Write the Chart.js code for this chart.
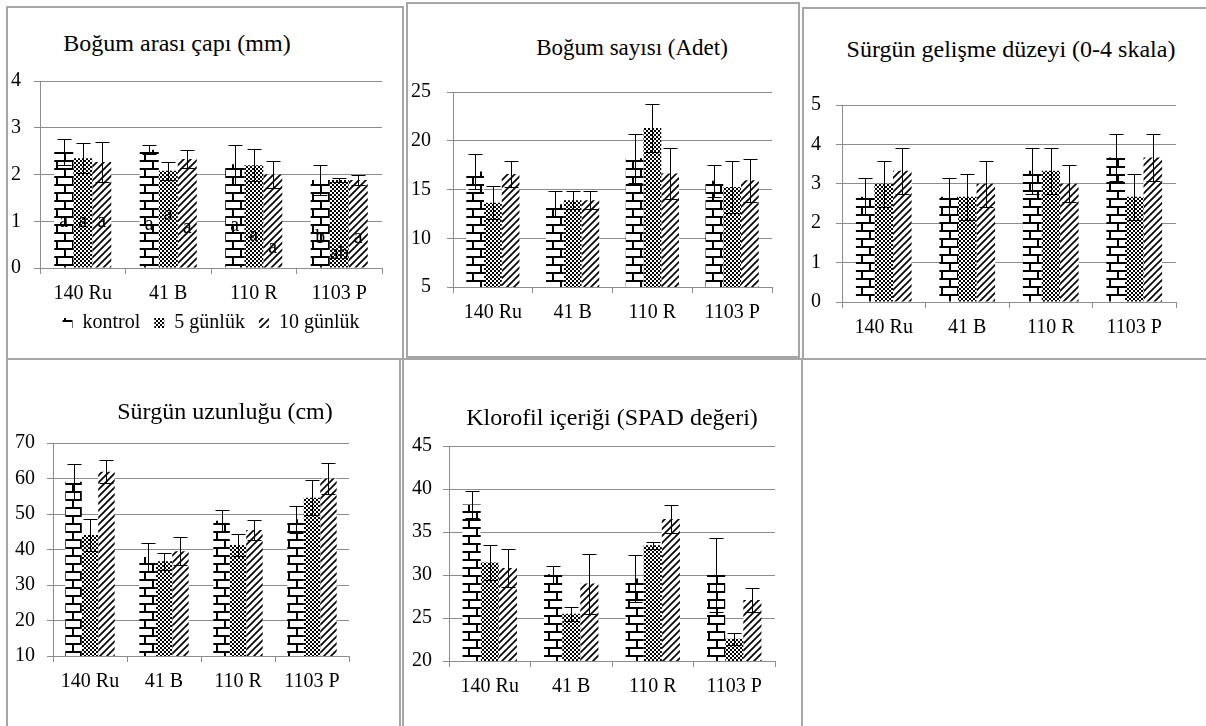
<!DOCTYPE html>
<html>
<head>
<meta charset="utf-8">
<script src="https://cdn.jsdelivr.net/npm/chart.js@4.4.1/dist/chart.umd.min.js"></script>
<style>
body { margin: 0; background: #fff; width: 1206px; height: 726px; overflow: hidden; position: relative; font-family: 'Liberation Serif', 'Times New Roman', serif; }
.box { position: absolute; border: 2px solid #a6a6a6; box-sizing: border-box; }
.ttl { position: absolute; transform: translate(-50%, -50%); white-space: nowrap; line-height: 1; color: #000; }
canvas { position: absolute; }
</style>
</head>
<body>
<div class="box" style="left:6px;top:6px;width:398px;height:354px"></div>
<div class="box" style="left:406px;top:2px;width:394px;height:356px"></div>
<div class="box" style="left:802px;top:7px;width:410px;height:353px"></div>
<div class="box" style="left:6px;top:358px;width:395px;height:380px"></div>
<div class="box" style="left:402px;top:358px;width:401px;height:380px"></div>
<script>
const categories = ['140 Ru', '41 B', '110 R', '1103 P'];
const seriesNames = ['kontrol', '5 günlük', '10 günlük'];

// Boğum arası çapı (mm)
const capKontrol = [2.48, 2.53, 2.22, 1.88];
const capKontrolErr = [0.27, 0.1, 0.42, 0.32];
const cap5 = [2.35, 2.08, 2.2, 1.88];
const cap5Err = [0.32, 0.19, 0.34, 0.04];
const cap10 = [2.27, 2.33, 2.0, 1.88];
const cap10Err = [0.43, 0.19, 0.28, 0.1];
const capLettersKontrol = ['a', 'a', 'a', 'b'];
const capLetters5 = ['a', 'a', 'a', 'ab'];
const capLetters10 = ['a', 'a', 'a', 'a'];
const capLetterAtKontrol = [1.0, 0.93, 0.9, 0.64];
const capLetterAt5 = [1.0, 1.14, 0.69, 0.3];
const capLetterAt10 = [1.0, 0.86, 0.44, 0.65];

// Boğum sayısı (Adet)
const sayiKontrol = [16.85, 13.5, 18.2, 15.9];
const sayiKontrolErr = [1.8, 1.35, 2.5, 1.65];
const sayi5 = [13.65, 13.9, 21.3, 15.25];
const sayi5Err = [1.7, 0.9, 2.5, 2.65];
const sayi10 = [16.6, 13.9, 16.65, 15.95];
const sayi10Err = [1.3, 0.9, 2.6, 2.2];

// Sürgün gelişme düzeyi (0-4 skala)
const gelKontrol = [2.67, 2.67, 3.33, 3.67];
const gelKontrolErr = [0.47, 0.47, 0.58, 0.6];
const gel5 = [3.0, 2.67, 3.33, 2.67];
const gel5Err = [0.58, 0.58, 0.58, 0.58];
const gel10 = [3.33, 3.0, 3.0, 3.67];
const gel10Err = [0.58, 0.58, 0.47, 0.6];

// Sürgün uzunluğu (cm)
const uzKontrol = [59.1, 37.9, 48.1, 48.5];
const uzKontrolErr = [4.9, 4.0, 3.0, 3.8];
const uz5 = [44.1, 36.7, 41.3, 54.6];
const uz5Err = [4.4, 2.4, 3.0, 5.0];
const uz10 = [61.9, 39.5, 45.5, 60.0];
const uz10Err = [3.2, 3.9, 2.7, 4.4];

// Klorofil içeriği (SPAD değeri)
const spadKontrol = [38.2, 30.1, 29.6, 30.0];
const spadKontrolErr = [1.55, 1.0, 2.7, 4.3];
const spad5 = [31.45, 25.5, 33.45, 22.6];
const spad5Err = [2.05, 0.8, 0.4, 0.7];
const spad10 = [30.8, 29.0, 36.5, 27.1];
const spad10Err = [2.25, 3.5, 1.65, 1.4];

const FONT = "'Liberation Serif', 'Times New Roman', serif";
const GRID = '#8c8c8c';

function tile(w, h, draw) {
    const c = document.createElement('canvas');
    c.width = w; c.height = h;
    const g = c.getContext('2d');
    g.fillStyle = '#fff';
    g.fillRect(0, 0, w, h);
    g.fillStyle = '#000';
    g.strokeStyle = '#000';
    draw(g);
    return g.createPattern(c, 'repeat');
}

// horizontal brick
const brick = tile(16, 16, g => {
    g.fillRect(0, 0, 16, 2);
    g.fillRect(0, 8, 16, 2);
    g.fillRect(0, 2, 2, 6);
    g.fillRect(8, 10, 2, 6);
});
// small checker board
const checker = tile(4, 4, g => {
    g.fillRect(0, 0, 2, 2);
    g.fillRect(2, 2, 2, 2);
});
// wide upward diagonal
const diagonal = tile(7, 7, g => {
    g.lineWidth = 1.7;
    g.beginPath();
    g.moveTo(-1, 8); g.lineTo(8, -1);
    g.moveTo(-2, 2); g.lineTo(2, -2);
    g.moveTo(5, 9); g.lineTo(9, 5);
    g.stroke();
});
const fills = [brick, checker, diagonal];

const errorBars = {
    id: 'errorBars',
    afterDatasetsDraw(chart) {
        const ctx = chart.ctx, y = chart.scales.y;
        ctx.save();
        ctx.strokeStyle = '#000';
        ctx.lineWidth = 1;
        chart.data.datasets.forEach((ds, i) => {
            chart.getDatasetMeta(i).data.forEach((bar, j) => {
                const x = Math.round(bar.x) + 0.5;
                const t = Math.round(y.getPixelForValue(ds.data[j] + ds.errors[j])) + 0.5;
                const b = Math.round(y.getPixelForValue(ds.data[j] - ds.errors[j])) + 0.5;
                ctx.beginPath();
                ctx.moveTo(x, t); ctx.lineTo(x, b);
                ctx.moveTo(x - 7, t); ctx.lineTo(x + 7, t);
                ctx.moveTo(x - 7, b); ctx.lineTo(x + 7, b);
                ctx.stroke();
            });
        });
        ctx.restore();
    }
};

const barLetters = {
    id: 'barLetters',
    afterDraw(chart) {
        const ctx = chart.ctx, y = chart.scales.y;
        ctx.save();
        ctx.font = '20px ' + FONT;
        ctx.fillStyle = '#000';
        ctx.textAlign = 'center';
        ctx.textBaseline = 'middle';
        chart.data.datasets.forEach((ds, i) => {
            if (!ds.letters) return;
            chart.getDatasetMeta(i).data.forEach((bar, j) => {
                ctx.fillText(ds.letters[j], bar.x, y.getPixelForValue(ds.letterAt[j]));
            });
        });
        ctx.restore();
    }
};

function addTitle(text, x, y, size) {
    const d = document.createElement('div');
    d.className = 'ttl';
    d.textContent = text;
    d.style.left = x + 'px';
    d.style.top = y + 'px';
    d.style.fontSize = size + 'px';
    document.body.appendChild(d);
}

function makeChart(p, values, errors, extra) {
    const padTop = 20, padRight = 10;
    const axisH = p.legend ? 31 : 45;
    const legendH = p.legend ? 44 : 0;
    const left = Math.max(0, p.plot[0] - 45);
    const yW = p.plot[0] - left;
    const top = p.plot[1] - padTop;
    const cv = document.createElement('canvas');
    cv.width = p.plot[2] + padRight - left;
    cv.height = p.plot[3] + axisH + legendH - top;
    cv.style.left = left + 'px';
    cv.style.top = top + 'px';
    document.body.appendChild(cv);

    const datasets = values.map((v, i) => Object.assign({
        label: seriesNames[i],
        data: v,
        errors: errors[i],
        backgroundColor: fills[i],
        borderWidth: 0,
        categoryPercentage: 0.667,
        barPercentage: 1.0
    }, extra ? extra[i] : {}));

    addTitle(p.title, p.titleX, p.titleY, p.titleSize);

    return new Chart(cv, {
        type: 'bar',
        data: { labels: categories, datasets },
        plugins: [errorBars, barLetters],
        options: {
            responsive: false,
            animation: false,
            devicePixelRatio: 1,
            layout: { padding: { top: padTop, right: padRight, left: 0, bottom: 0 } },
            plugins: {
                tooltip: { enabled: false },
                title: { display: false },
                legend: {
                    display: !!p.legend,
                    position: 'bottom',
                    fullSize: false,
                    labels: {
                        font: { family: FONT, size: 20 },
                        color: '#000',
                        boxWidth: 10,
                        boxHeight: 10,
                        padding: 14
                    }
                }
            },
            scales: {
                x: {
                    grid: { display: true, drawOnChartArea: false, drawTicks: true, tickLength: 6, color: GRID, offset: true },
                    border: { color: GRID },
                    ticks: { font: { family: FONT, size: 20 }, color: '#000', padding: 8, maxRotation: 0, autoSkip: false },
                    afterFit: s => { s.height = axisH; }
                },
                y: {
                    min: p.min,
                    max: p.max,
                    grid: { color: GRID, tickLength: 6 },
                    border: { color: GRID },
                    ticks: { stepSize: p.step, font: { family: FONT, size: 20 }, color: '#000', padding: p.tickPad },
                    afterFit: s => { s.width = yW; }
                }
            }
        }
    });
}

makeChart(
    { plot: [40, 76, 382, 268], min: 0, max: 4, step: 1, tickPad: 13, legend: true,
      title: 'Boğum arası çapı (mm)', titleX: 177, titleY: 43, titleSize: 24 },
    [capKontrol, cap5, cap10],
    [capKontrolErr, cap5Err, cap10Err],
    [
        { letters: capLettersKontrol, letterAt: capLetterAtKontrol },
        { letters: capLetters5, letterAt: capLetterAt5 },
        { letters: capLetters10, letterAt: capLetterAt10 }
    ]
);

makeChart(
    { plot: [453, 84, 772, 287], min: 5, max: 25, step: 5, tickPad: 16,
      title: 'Boğum sayısı (Adet)', titleX: 632, titleY: 47, titleSize: 23 },
    [sayiKontrol, sayi5, sayi10],
    [sayiKontrolErr, sayi5Err, sayi10Err]
);

makeChart(
    { plot: [842, 98, 1176, 302], min: 0, max: 5, step: 1, tickPad: 15,
      title: 'Sürgün gelişme düzeyi (0-4 skala)', titleX: 1011, titleY: 49, titleSize: 24 },
    [gelKontrol, gel5, gel10],
    [gelKontrolErr, gel5Err, gel10Err]
);

makeChart(
    { plot: [53, 439, 349, 656], min: 10, max: 70, step: 10, tickPad: 12,
      title: 'Sürgün uzunluğu (cm)', titleX: 225, titleY: 411, titleSize: 24 },
    [uzKontrol, uz5, uz10],
    [uzKontrolErr, uz5Err, uz10Err]
);

makeChart(
    { plot: [449, 443, 775, 661], min: 20, max: 45, step: 5, tickPad: 11,
      title: 'Klorofil içeriği (SPAD değeri)', titleX: 612, titleY: 417, titleSize: 24 },
    [spadKontrol, spad5, spad10],
    [spadKontrolErr, spad5Err, spad10Err]
);
</script>
</body>
</html>
